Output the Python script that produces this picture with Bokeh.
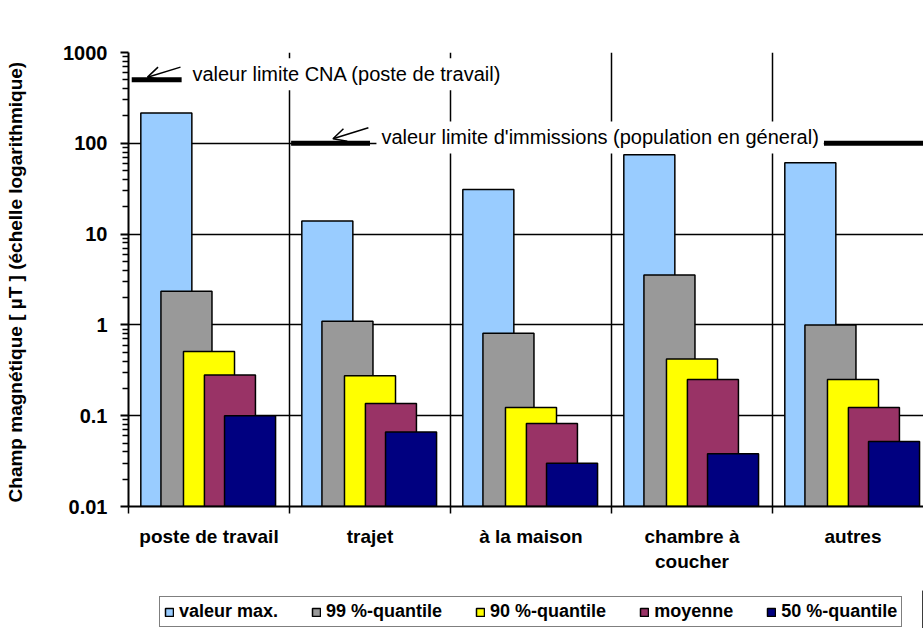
from bokeh.plotting import figure
from bokeh.layouts import column
from bokeh.models import (Range1d, FixedTicker, CustomJSTickFormatter, Label, Arrow,
                          OpenHead, Legend, LegendItem, ColumnDataSource)
from bokeh.embed import file_html
from bokeh.resources import INLINE

# ---------------- data ----------------
categories = ["poste de travail", "trajet", "à la maison", "chambre à\ncoucher", "autres"]
series_names = ["valeur max.", "99 %-quantile", "90 %-quantile", "moyenne", "50 %-quantile"]
valeur_max = [215, 13.9, 31, 75, 61]
quantile_99 = [2.35, 1.1, 0.81, 3.55, 1.0]
quantile_90 = [0.51, 0.275, 0.123, 0.42, 0.25]
moyenne = [0.28, 0.136, 0.082, 0.25, 0.123]
quantile_50 = [0.1, 0.066, 0.030, 0.038, 0.052]
limit_cna = 500          # valeur limite CNA (poste de travail)
limit_population = 100   # valeur limite d'immissions
y_ticks = [0.01, 0.1, 1, 10, 100, 1000]

series_values = [valeur_max, quantile_99, quantile_90, moyenne, quantile_50]
colors = ["#99CCFF", "#999999", "#FFFF00", "#993366", "#000080"]
offsets = [-0.265, -0.14, 0.0, 0.13, 0.255]
bar_width = 0.317

FONT = "Liberation Sans"

p = figure(width=923, height=590, output_backend="svg", toolbar_location=None,
           y_axis_type="log", x_range=Range1d(0, 4.938), y_range=Range1d(0.01, 1000),
           min_border_left=128, min_border_right=0, min_border_top=52, min_border_bottom=84,
           outline_line_color=None, background_fill_color="white", border_fill_color="white")

# ---------------- bars ----------------
renderers = []
for vals, col, off in zip(series_values, colors, offsets):
    src = ColumnDataSource(dict(x=[i + 0.5 + off for i in range(len(categories))],
                                top=vals, bottom=[y_ticks[0]] * len(vals)))
    r = p.vbar(x="x", top="top", bottom="bottom", width=bar_width, source=src,
               fill_color=col, line_color="black", line_width=1.5)
    renderers.append(r)

# ---------------- axes ----------------
yax = p.yaxis[0]
yax.ticker = FixedTicker(ticks=y_ticks,
                         minor_ticks=[m * t for t in y_ticks[:-1] for m in range(2, 10)])
yax.formatter = CustomJSTickFormatter(code="return tick >= 1 ? tick.toFixed(0) : String(tick);")
yax.major_label_text_font = FONT
yax.major_label_text_font_style = "bold"
yax.major_label_text_font_size = "20px"
yax.major_label_text_color = "black"
yax.major_tick_out = 8
yax.major_tick_in = 0
yax.minor_tick_out = 6
yax.minor_tick_in = 0
yax.major_tick_line_width = 2
yax.minor_tick_line_width = 1.5
yax.axis_line_width = 2
yax.axis_line_color = "black"
yax.major_label_standoff = 13
yax.axis_label = "Champ magnétique [ µT ]  (échelle logarithmique)"
yax.axis_label_text_font = FONT
yax.axis_label_text_font_style = "bold"
yax.axis_label_text_font_size = "19px"
yax.axis_label_text_color = "black"
yax.axis_label_standoff = 34

xax = p.xaxis[0]
xax.ticker = FixedTicker(ticks=[i + 0.5 for i in range(len(categories))],
                         minor_ticks=list(range(len(categories))))
xax.formatter = CustomJSTickFormatter(args=dict(labels=categories),
                                      code="return labels[Math.floor(tick)];")
xax.major_label_text_font = FONT
xax.major_label_text_font_style = "bold"
xax.major_label_text_font_size = "19px"
xax.major_label_text_color = "black"
xax.major_tick_out = 0
xax.major_tick_in = 0
xax.minor_tick_out = 7
xax.minor_tick_in = 0
xax.minor_tick_line_width = 1.5
xax.axis_line_width = 2
xax.axis_line_color = "black"
xax.major_label_standoff = 12

# ---------------- grids ----------------
p.ygrid.grid_line_color = "black"
p.ygrid.grid_line_width = 1.5
p.xgrid.ticker = FixedTicker(ticks=list(range(1, len(categories))))
p.xgrid.grid_line_color = "black"
p.xgrid.grid_line_width = 1.5

# ---------------- limit lines ----------------
p.segment(x0=[0.02], x1=[0.33], y0=[limit_cna], y1=[limit_cna], line_color="black", line_width=5)
p.segment(x0=[1.01, 4.32], x1=[1.5, 4.938], y0=[limit_population] * 2, y1=[limit_population] * 2,
          line_color="black", line_width=5)

p.add_layout(Label(x=0.366, y=575, text="valeur limite CNA (poste de travail)",
                   text_font=FONT, text_font_size="20px", text_color="black",
                   text_baseline="middle", text_align="left",
                   background_fill_color="white", padding=5))
p.add_layout(Label(x=1.54, y=116, text="valeur limite d'immissions (population en géneral)",
                   text_font=FONT, text_font_size="20px", text_color="black",
                   text_baseline="middle", text_align="left",
                   background_fill_color="white", padding=5))

p.add_layout(Arrow(end=OpenHead(size=13, line_width=1.5, line_color="black"),
                   x_start=0.323, y_start=690, x_end=0.118, y_end=535,
                   line_width=1.5, line_color="black"))
p.add_layout(Arrow(end=OpenHead(size=13, line_width=1.5, line_color="black"),
                   x_start=1.49, y_start=148, x_end=1.27, y_end=112,
                   line_width=1.5, line_color="black"))

# ---------------- legend (separate strip below the chart) ----------------
lg = figure(width=923, height=38, output_backend="svg", toolbar_location=None,
            x_range=Range1d(0, 1), y_range=Range1d(0, 1),
            x_axis_location=None, y_axis_location=None,
            min_border_left=0, min_border_right=0, min_border_top=0, min_border_bottom=0,
            outline_line_color=None, background_fill_color="white", border_fill_color="white")
lg.xgrid.visible = False
lg.ygrid.visible = False
swatches = []
for col in colors:
    # proxy glyphs outside the visible range, used only for the legend swatches
    swatches.append(lg.vbar(x=[5], top=[1], bottom=[0], width=0.1, fill_color=col,
                            line_color="black", line_width=1.5))
legend = Legend(items=[LegendItem(label=n, renderers=[r]) for n, r in zip(series_names, swatches)],
                orientation="horizontal", location=(31, 1),
                label_text_font=FONT, label_text_font_style="bold", label_text_font_size="18px",
                label_text_color="black", glyph_width=10, glyph_height=10, label_standoff=5,
                spacing=33, padding=4, margin=0, label_height=20,
                border_line_color="black", border_line_width=1.5,
                background_fill_color="white", background_fill_alpha=1.0)
lg.add_layout(legend, "center")

layout = column(p, lg, spacing=0)
open("out.html", "w").write(file_html(layout, INLINE))
